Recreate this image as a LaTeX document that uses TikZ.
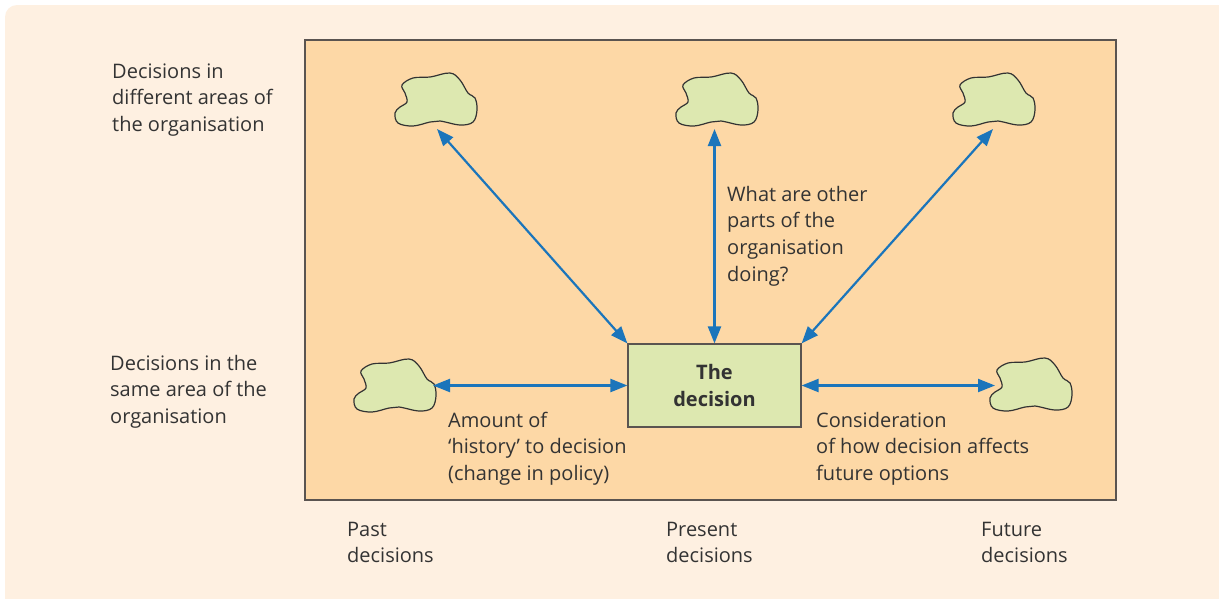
\documentclass[tikz,border=0pt]{standalone}
\usepackage{fontspec}
\setmainfont{Open Sans}
\usetikzlibrary{arrows.meta}
\definecolor{cream}{HTML}{FEF0E1}
\definecolor{peach}{HTML}{FDD8A6}
\definecolor{leaf}{HTML}{DDE8B0}
\definecolor{ink}{HTML}{333333}
\definecolor{frame}{HTML}{5A5450}
\definecolor{arrowblue}{HTML}{1B75BB}
\begin{document}
\begin{tikzpicture}[x=1pt,y=-1pt,
  txt/.style={font=\fontsize{20}{26.7}\selectfont, text=ink, align=left, anchor=base west, inner sep=0pt},
  blobline/.style={draw=ink, line width=1.2pt, fill=leaf},
  blob/.pic={\path[blobline] plot[smooth cycle, tension=0.6] coordinates{(-34,-15) (-23,-22) (-6,-23) (14,-27) (24,-20) (32,-7) (39,-2) (41,10) (37,22) (24,25) (4,21) (-6,22) (-23,26) (-38,23) (-41,13) (-36,7) (-29,2) (-31,-7)};},
  link/.style={draw=arrowblue, line width=2.2pt, {Triangle[length=17pt,width=13pt]}-{Triangle[length=17pt,width=13pt]}},
  decbox/.style={draw=frame, line width=1.2pt, fill=leaf, minimum width=173pt, minimum height=83pt, inner sep=0pt, align=center, text=ink, font=\fontsize{20}{27}\selectfont\bfseries}]
\useasboundingbox (0,0) rectangle (1219,598);
\fill[white] (0,0) rectangle (1219,598);
\fill[cream, rounded corners=12pt] (5,5) rectangle (1250,630);
\draw[fill=peach, draw=frame, line width=1.8pt] (305,40) rectangle (1116,500);
% clouds
\path (436,100) pic {blob};
\path (717,100) pic {blob};
\path (994,100) pic {blob};
\path (395,386) pic {blob};
\path (1031,385) pic {blob};
% decision
\node[decbox] (dec) at (714.5,385.5) {The\\decision};
% arrow free ends
\coordinate (a1) at (437,129);
\coordinate (a2) at (714.5,129);
\coordinate (a3) at (993,129);
\coordinate (a4) at (433,385.5);
\coordinate (a5) at (995,385.5);
\draw[link] (a1) -- (dec.north west);
\draw[link] (a2) -- (dec.north);
\draw[link] (a3) -- (dec.north east);
\draw[link] (a4) -- (dec.west);
\draw[link] (dec.east) -- (a5);
% texts (base anchor = baseline of last line)
\node[txt] (t1) at (112,131.4) {Decisions in\\different areas of\\the organisation};
\node[txt] (t2) at (110,423.4) {Decisions in the\\same area of the\\organisation};
\node[txt] (t3) at (727,281.1) {What are other\\parts of the\\organisation\\doing?};
\node[txt] (t4) at (448,480.4) {Amount of\\‘history’ to decision\\(change in policy)};
\node[txt] (t5) at (816,480.4) {Consideration\\of how decision affects\\future options};
\node[txt] (t6) at (347,562.7) {Past\\decisions};
\node[txt] (t7) at (666,562.7) {Present\\decisions};
\node[txt] (t8) at (981,562.7) {Future\\decisions};
\end{tikzpicture}
\end{document}
